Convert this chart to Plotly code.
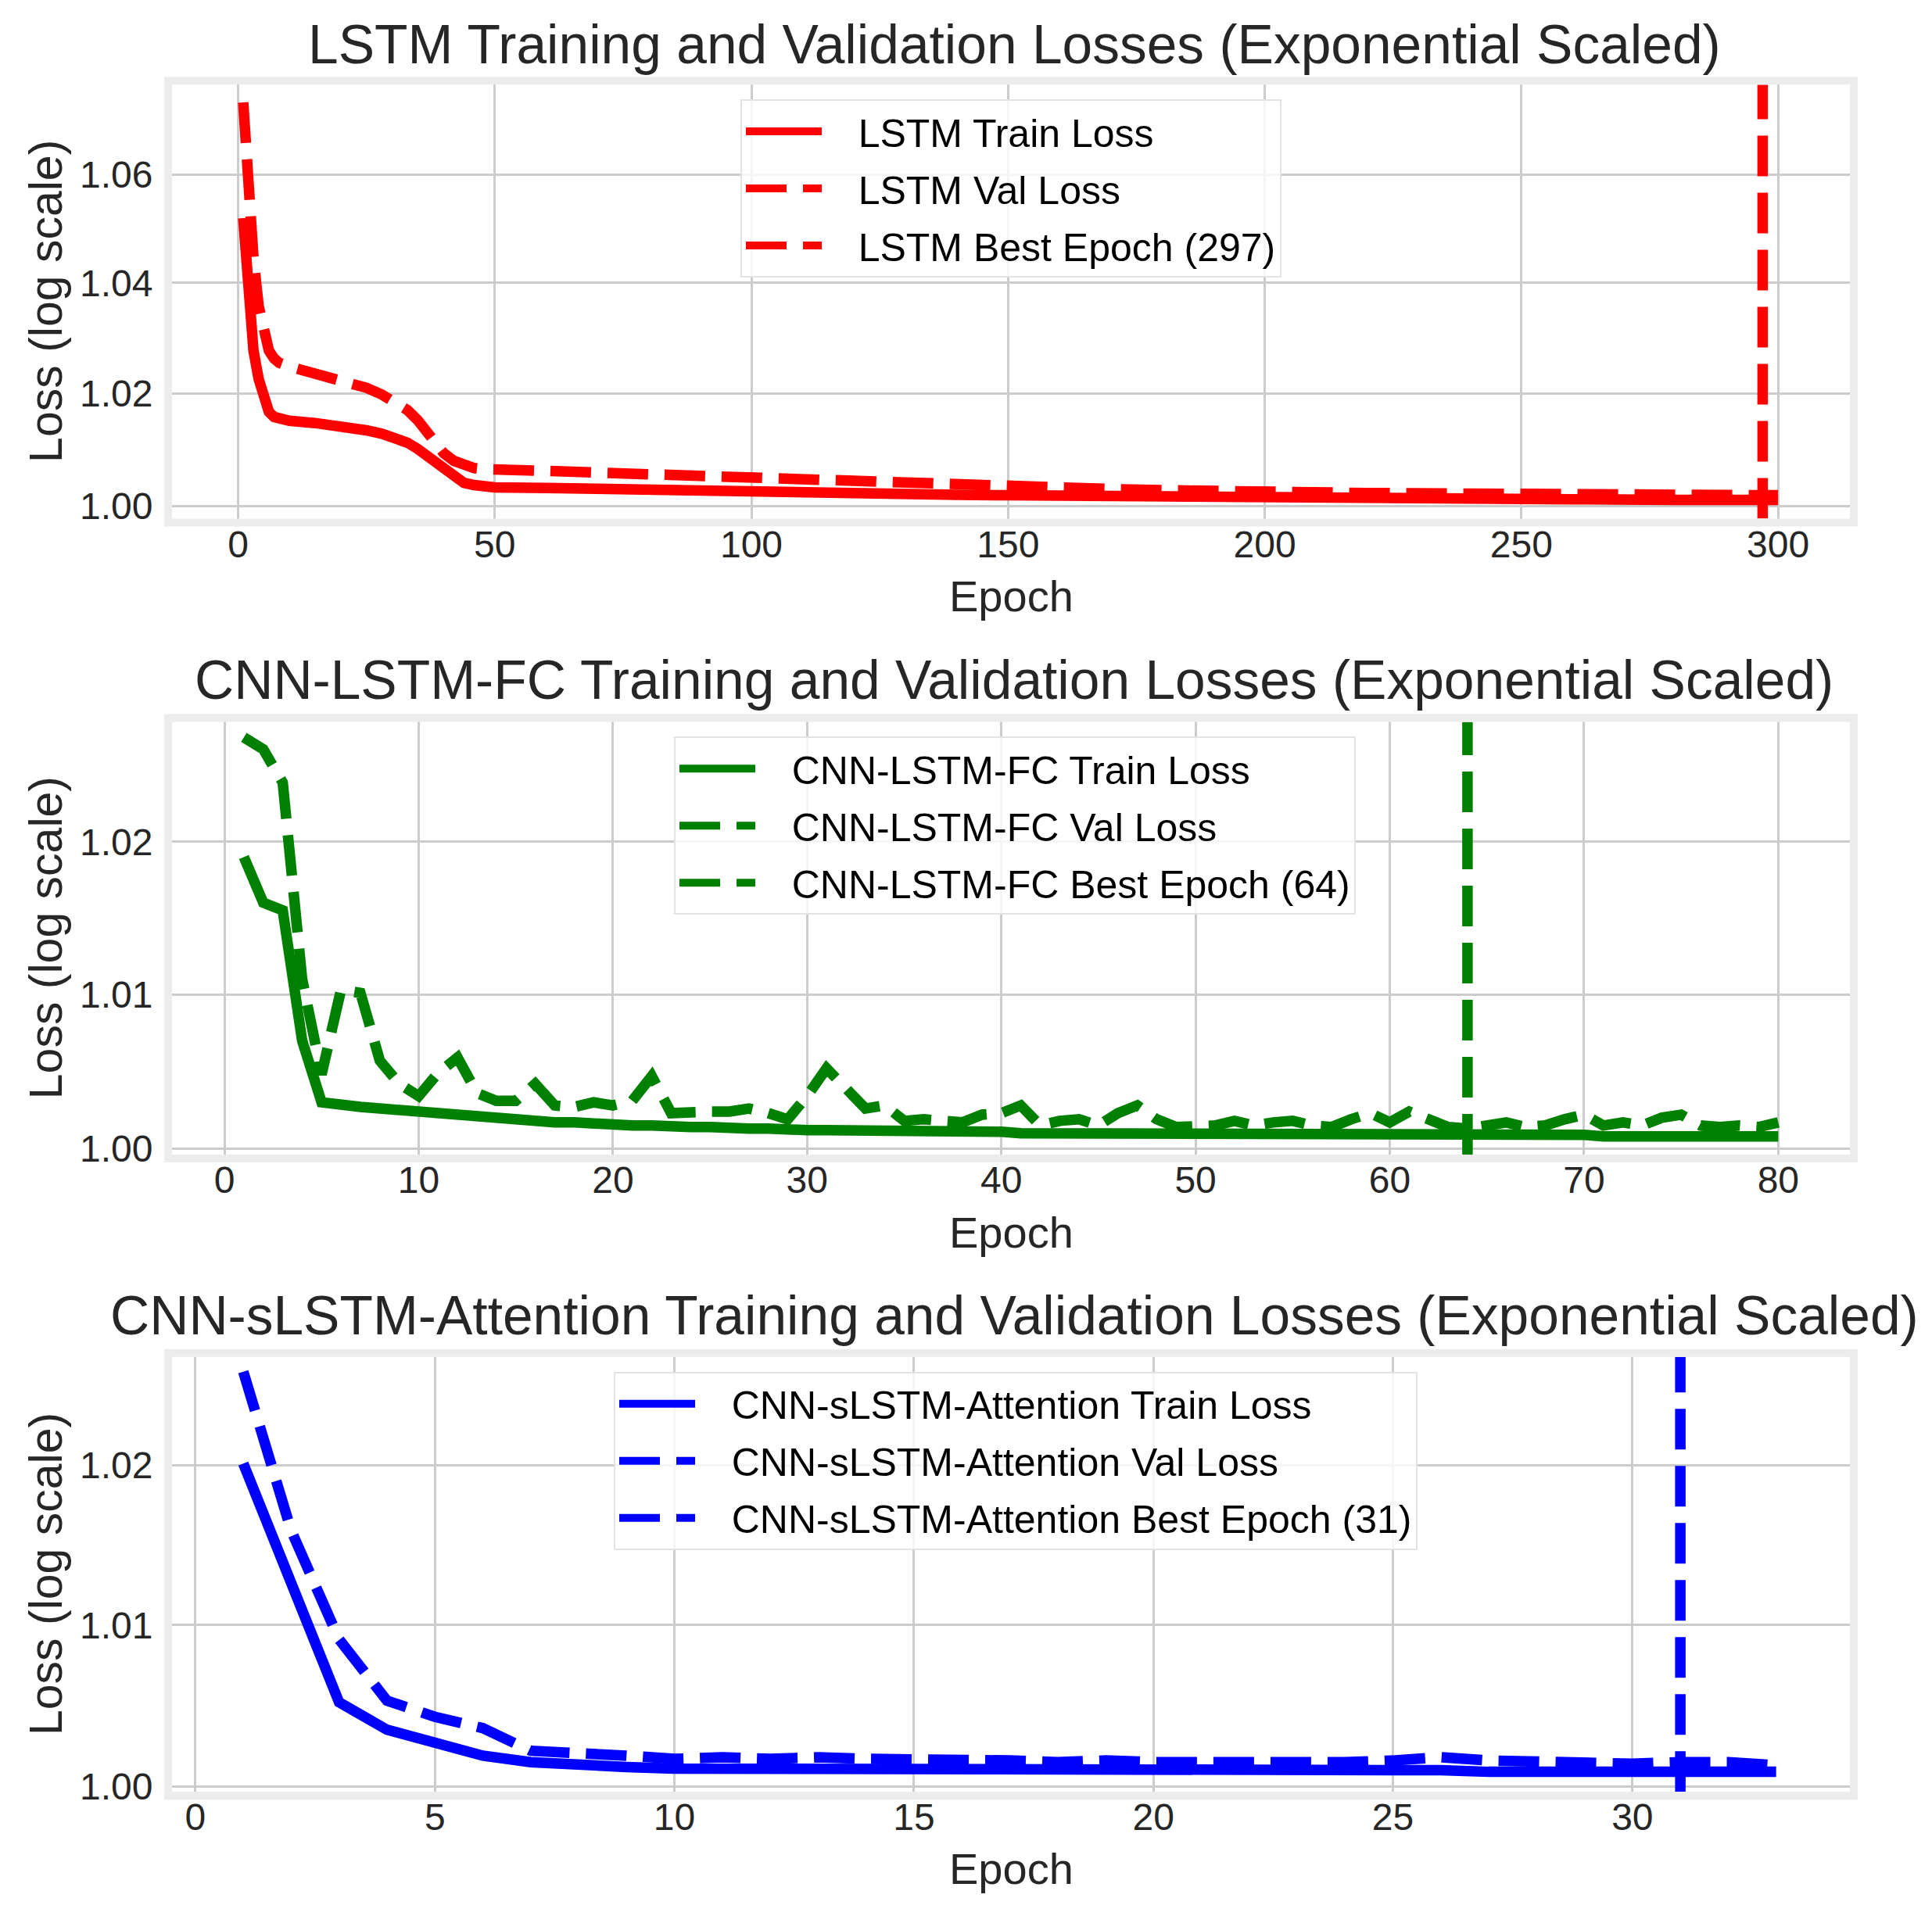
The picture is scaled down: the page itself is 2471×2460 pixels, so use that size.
import numpy as np
import plotly.graph_objects as go

# LSTM (300 epochs, values read at selected epochs)
LSTM_EPOCHS = [1, 2, 3, 4, 5, 6, 7, 8, 10, 15, 20, 25, 28, 30, 33, 35, 38, 40, 42, 44, 46, 48,
               50, 60, 70, 80, 90, 100, 110, 120, 130, 140, 150, 160, 170, 180, 190, 200,
               220, 240, 260, 280, 300]
LSTM_TRAIN = [1.0519, 1.0369, 1.0277, 1.0226, 1.0189, 1.0167, 1.0158, 1.0154, 1.0151, 1.0147,
              1.0142, 1.0134, 1.0128, 1.0123, 1.0112, 1.0101, 1.0079, 1.0065, 1.0050, 1.0041,
              1.0037, 1.0034, 1.0033, 1.0032, 1.0030, 1.0029, 1.0028, 1.0026, 1.0025, 1.0024,
              1.0022, 1.0020, 1.0019, 1.0018, 1.0017, 1.0016, 1.0015, 1.0014, 1.0013, 1.0012,
              1.0012, 1.0011, 1.0011]
LSTM_VAL = [1.0735, 1.0549, 1.0446, 1.0358, 1.0307, 1.0277, 1.0263, 1.0255, 1.0248, 1.0236,
            1.0224, 1.0210, 1.0198, 1.0188, 1.0170, 1.0152, 1.0118, 1.0094, 1.0080, 1.0072,
            1.0067, 1.0065, 1.0064, 1.0062, 1.0059, 1.0056, 1.0054, 1.0051, 1.0047, 1.0042,
            1.0038, 1.0036, 1.0034, 1.0032, 1.0030, 1.0028, 1.0026, 1.0024, 1.0023, 1.0022,
            1.0021, 1.0020, 1.0019]
LSTM_BEST = 297

# CNN-LSTM-FC (80 epochs)
FC_EPOCHS = list(range(1, 81))
FC_TRAIN = [1.0190, 1.0160, 1.0155, 1.0070, 1.0030, 1.0028, 1.0027, 1.0026, 1.0025, 1.0023,
            1.0022, 1.0021, 1.0020, 1.0019, 1.0019, 1.0018, 1.0017, 1.0017, 1.0016, 1.0015,
            1.0015, 1.0015, 1.0014, 1.0014, 1.0014, 1.0013, 1.0013, 1.0013, 1.0012, 1.0012,
            1.0012, 1.0012, 1.0012, 1.0011, 1.0011, 1.0011, 1.0011, 1.0011, 1.0011, 1.0011,
            1.0010, 1.0010, 1.0010, 1.0010, 1.0010, 1.0010, 1.0010, 1.0010, 1.0010, 1.0010,
            1.0010, 1.0010, 1.0009, 1.0009, 1.0009, 1.0009, 1.0009, 1.0009, 1.0009, 1.0009,
            1.0009, 1.0009, 1.0009, 1.0009, 1.0009, 1.0009, 1.0009, 1.0009, 1.0009, 1.0009,
            1.0008, 1.0008, 1.0008, 1.0008, 1.0008, 1.0008, 1.0008, 1.0008, 1.0008, 1.0008]
FC_VAL = [1.0269, 1.0261, 1.0239, 1.0110, 1.0048, 1.0103, 1.0101, 1.0057, 1.0042, 1.0034,
          1.0049, 1.0059, 1.0036, 1.0031, 1.0031, 1.0042, 1.0028, 1.0027, 1.0030, 1.0028,
          1.0031, 1.0047, 1.0023, 1.0024, 1.0024, 1.0024, 1.0026, 1.0023, 1.0019, 1.0034,
          1.0052, 1.0039, 1.0026, 1.0028, 1.0018, 1.0019, 1.0018, 1.0017, 1.0022, 1.0023,
          1.0028, 1.0015, 1.0018, 1.0019, 1.0015, 1.0023, 1.0028, 1.0019, 1.0014, 1.0014,
          1.0015, 1.0018, 1.0015, 1.0017, 1.0018, 1.0015, 1.0014, 1.0019, 1.0023, 1.0017,
          1.0024, 1.0019, 1.0014, 1.0013, 1.0015, 1.0017, 1.0014, 1.0015, 1.0019, 1.0022,
          1.0015, 1.0017, 1.0015, 1.0020, 1.0022, 1.0015, 1.0014, 1.0015, 1.0014, 1.0017]
FC_BEST = 64

# CNN-sLSTM-Attention (33 epochs)
ATT_EPOCHS = list(range(1, 34))
ATT_TRAIN = [1.0201, 1.0125, 1.0052, 1.0035, 1.0027, 1.0019, 1.0015, 1.0013, 1.0012, 1.0011,
             1.0011, 1.0011, 1.0011, 1.0011, 1.0011, 1.0010, 1.0010, 1.0010, 1.0010, 1.0010,
             1.0010, 1.0010, 1.0010, 1.0010, 1.0010, 1.0010, 1.0009, 1.0009, 1.0009, 1.0009,
             1.0009, 1.0009, 1.0009]
ATT_VAL = [1.0259, 1.0159, 1.0091, 1.0053, 1.0043, 1.0036, 1.0022, 1.0021, 1.0019, 1.0017,
           1.0018, 1.0017, 1.0018, 1.0017, 1.0017, 1.0016, 1.0016, 1.0015, 1.0016, 1.0015,
           1.0015, 1.0015, 1.0014, 1.0015, 1.0016, 1.0018, 1.0016, 1.0015, 1.0015, 1.0014,
           1.0015, 1.0015, 1.0013]
ATT_BEST = 31

FONT = "Liberation Sans, Arial, sans-serif"
TEXT = "#262626"
# page body keeps an 8px margin, so the figure is 8px smaller and positions shifted
OFF = 8
W, H = 2471 - OFF, 2460 - OFF

PANELS = [
    dict(name="LSTM", color="#ff0000", ep=LSTM_EPOCHS, tr=LSTM_TRAIN, va=LSTM_VAL, best=LSTM_BEST,
         xr=[-12.87, 314.0], dtick=50, yr=[-0.000964, 0.03216], yt=[1.00, 1.02, 1.04, 1.06],
         top=109, bot=669, leg_x=947, title_y=57, xlab_y=769),
    dict(name="CNN-LSTM-FC", color="#008000", ep=FC_EPOCHS, tr=FC_TRAIN, va=FC_VAL, best=FC_BEST,
         xr=[-2.70, 83.69], dtick=10, yr=[-0.000162, 0.01196], yt=[1.00, 1.01, 1.02],
         top=931, bot=1489, leg_x=862, title_y=877, xlab_y=1589),
    dict(name="CNN-sLSTM-Attention", color="#0000ff", ep=ATT_EPOCHS, tr=ATT_TRAIN, va=ATT_VAL,
         best=ATT_BEST, xr=[-0.488, 34.54], dtick=5, yr=[-0.000145, 0.011501],
         yt=[1.00, 1.01, 1.02], top=1750, bot=2311, leg_x=785, title_y=1697, xlab_y=2410),
]

PLOT_L, PLOT_R = 220, 2366
LW = 13.5
DASH = "52px,21px"
PAD = "\u00a0\u00a0\u00a0"  # gap between legend line sample and label


def px_x(px):
    return (px - OFF) / W


def px_y(py):
    return 1 - (py - OFF) / H


fig = go.Figure()
annotations = []
shapes = []

for i, p in enumerate(PANELS):
    n = "" if i == 0 else str(i + 1)
    xa, ya = "x" + n, "y" + n
    leg = "legend" + n

    fig.add_trace(go.Scatter(
        x=p["ep"], y=p["tr"], mode="lines", name=f"{PAD}{p['name']} Train Loss",
        line=dict(color=p["color"], width=LW), xaxis=xa, yaxis=ya, legend=leg,
        legendgroup=f"{i}a",
    ))
    fig.add_trace(go.Scatter(
        x=p["ep"], y=p["va"], mode="lines", name=f"{PAD}{p['name']} Val Loss",
        line=dict(color=p["color"], width=LW, dash=DASH), xaxis=xa, yaxis=ya, legend=leg,
        legendgroup=f"{i}b",
    ))
    # vertical best-epoch line spanning the full y range
    fig.add_trace(go.Scatter(
        x=[p["best"], p["best"]], y=[10 ** p["yr"][0], 10 ** p["yr"][1]], mode="lines",
        name=f"{PAD}{p['name']} Best Epoch ({p['best']})",
        line=dict(color=p["color"], width=LW, dash=DASH), xaxis=xa, yaxis=ya, legend=leg,
        legendgroup=f"{i}c",
    ))

    fig.update_layout({
        "xaxis" + n: dict(
            domain=[px_x(PLOT_L), px_x(PLOT_R)], anchor=ya, range=p["xr"], dtick=p["dtick"],
            tick0=0, showgrid=True, gridcolor="#cccccc", gridwidth=2.5, zeroline=False,
            ticks="", tickfont=dict(family=FONT, size=48, color=TEXT), showline=False,
        ),
        "yaxis" + n: dict(
            domain=[px_y(p["bot"]), px_y(p["top"])], anchor=xa, type="log", range=p["yr"],
            tickvals=p["yt"], tickformat=".2f", showgrid=True, gridcolor="#cccccc",
            gridwidth=2.5, zeroline=False, ticks="outside", ticklen=14,
            tickcolor="rgba(0,0,0,0)", tickfont=dict(family=FONT, size=48, color=TEXT),
            showline=False,
        ),
        leg: dict(
            x=px_x(p["leg_x"]), y=px_y(p["top"] + 19), xanchor="left", yanchor="top",
            xref="paper", yref="paper", bgcolor="rgba(255,255,255,0.8)",
            bordercolor="#e3e3e3", borderwidth=2, itemwidth=97, tracegroupgap=5,
            font=dict(family=FONT, size=50, color="#000000"),
        ),
    })

    # light frame around each axes
    shapes.append(dict(
        type="rect", xref=xa + " domain", yref=ya + " domain",
        x0=-5 / (PLOT_R - PLOT_L), x1=1 + 5 / (PLOT_R - PLOT_L),
        y0=-5 / (p["bot"] - p["top"]), y1=1 + 5 / (p["bot"] - p["top"]),
        line=dict(color="#ececec", width=10), layer="above",
    ))

    annotations.append(dict(
        text=f"{p['name']} Training and Validation Losses (Exponential Scaled)",
        xref="paper", yref="paper", x=px_x((PLOT_L + PLOT_R) / 2 + 4), y=px_y(p["title_y"]),
        xanchor="center", yanchor="middle", showarrow=False,
        font=dict(family=FONT, size=69.5, color=TEXT),
    ))
    annotations.append(dict(
        text="Epoch", xref="paper", yref="paper", x=px_x((PLOT_L + PLOT_R) / 2),
        y=px_y(p["xlab_y"]), xanchor="center", yanchor="middle", showarrow=False,
        font=dict(family=FONT, size=56, color=TEXT),
    ))
    annotations.append(dict(
        text="Loss (log scale)", xref="paper", yref="paper", x=px_x(59),
        y=px_y((p["top"] + p["bot"]) / 2), xanchor="center", yanchor="middle",
        textangle=-90, showarrow=False, font=dict(family=FONT, size=59, color=TEXT),
    ))

fig.update_layout(
    width=W, height=H, margin=dict(l=0, r=0, t=0, b=0),
    paper_bgcolor="white", plot_bgcolor="white",
    annotations=annotations, shapes=shapes,
)

fig.write_html("out.html")
